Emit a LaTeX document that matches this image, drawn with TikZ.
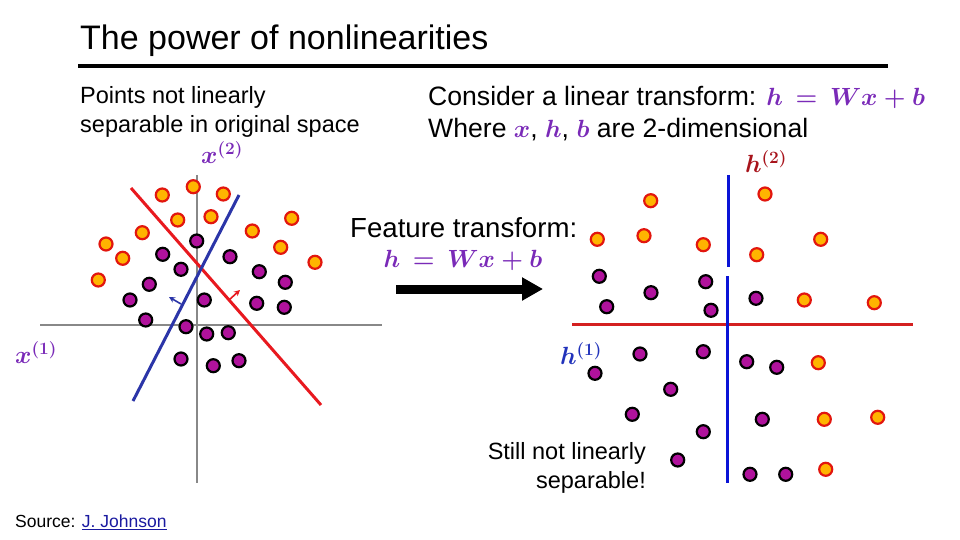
\documentclass[tikz,border=0pt]{standalone}
\usepackage{fontspec}
\setmainfont{Liberation Sans}
\usetikzlibrary{arrows.meta}
\definecolor{dotor}{HTML}{FFB400}
\definecolor{dotrim}{HTML}{E2160E}
\definecolor{dotpu}{HTML}{B0129C}
\definecolor{mpurple}{HTML}{7A2AB8}
\definecolor{lred}{HTML}{E8191F}
\definecolor{lblue}{HTML}{2B35A8}
\definecolor{rblue}{HTML}{0A14D6}
\definecolor{rred}{HTML}{D42020}
\definecolor{axgray}{HTML}{888888}
\definecolor{hred}{HTML}{A8141C}
\definecolor{hblue}{HTML}{2233BB}
\definecolor{linkblue}{HTML}{1A1AA0}
\newcommand{\mth}[1]{\textcolor{mpurple}{\fontsize{30}{30}\selectfont\boldmath$#1$}}
\tikzset{
  odot/.style={circle, fill=dotor, draw=dotrim, line width=2.2pt, minimum size=13pt, inner sep=0pt},
  pdot/.style={circle, fill=dotpu, draw=black, line width=2.2pt, minimum size=13pt, inner sep=0pt},
  axis/.style={draw=axgray, line width=2.8pt},
  txt/.style={inner sep=0pt, anchor=west, align=left},
  smalltxt/.style={font=\fontsize{23.5}{29}\selectfont},
  bigtxt/.style={font=\fontsize{26.6}{33}\selectfont},
  axlab/.style={inner sep=0pt, font=\fontsize{23}{28}\selectfont\boldmath},
}
\begin{document}
\begin{tikzpicture}[x=1pt,y=-1pt]
\useasboundingbox[fill=white] (0,0) rectangle (960,540);

% title
\node[txt, font=\fontsize{34}{40}\selectfont] (title) at (80,41) {The power of nonlinearities};
\coordinate (r1) at (78,66);
\coordinate (r2) at (888,66);
\draw[line width=4pt] (r1) -- (r2);

\node[txt, smalltxt] (pts) at (80,111.5) {Points not linearly\\separable in original space};
\node[txt, bigtxt] (cons) at (428,97) {Consider a linear transform: \mth{h\,=\,Wx+b}};
\node[txt, bigtxt] (where) at (428,130) {Where \mth{x}, \mth{h}, \mth{b} are 2-dimensional};

\node[txt, font=\fontsize{27.6}{33}\selectfont] (feat) at (350,228) {Feature transform:};
\node[inner sep=0pt] (feq) at (463,260) {\mth{h\,=\,Wx+b}};
\coordinate (a1) at (396,289);
\coordinate (a2) at (543,289);
\draw[line width=9pt, -{Triangle[length=21pt,width=22pt]}] (a1) -- (a2);

\node[inner sep=0pt, anchor=east, align=right, smalltxt] (still) at (646,467.5) {Still not linearly\\separable!};
\node[txt, font=\fontsize{17.5}{20}\selectfont] (src) at (15,522) {Source: \textcolor{linkblue}{\underline{J. Johnson}}};

% ---------- left plot ----------
\coordinate (vx1) at (197,175);
\coordinate (vx2) at (197,483);
\coordinate (hx1) at (40,325);
\coordinate (hx2) at (382,325);
\draw[axis] (vx1) -- (vx2);
\draw[axis] (hx1) -- (hx2);

\node[axlab, text=mpurple] (x2lab) at (222,153) {$x^{(2)}$};
\node[axlab, text=mpurple] (x1lab) at (36,353) {$x^{(1)}$};

\foreach \px/\py in {196.7/241,162.7/254.3,230/256.7,181/269.3,259.3/271.7,149.3/284.3,285.3/282.3,
  130/300,204.3/300,256.7/303.3,284.3/307.3,145.7/320,186/326.7,206.7/334,228.3/332.7,181/359,213.3/365.7,239/360.7}
  \node[pdot] at (\px,\py) {};
\foreach \px/\py in {162.3/195,193.3/186.7,223.3/194,177.7/220,211/216.7,291.7/218.3,142.3/232.7,252.3/231,
  106/244,122.7/258.3,280.7/247.3,315/262.3,98.3/280}
  \node[odot] at (\px,\py) {};

\coordinate (rl1) at (131,188);
\coordinate (rl2) at (321,405);
\coordinate (bl1) at (239,195);
\coordinate (bl2) at (133,401);
\draw[lred, line width=3pt] (rl1) -- (rl2);
\draw[lblue, line width=3pt] (bl1) -- (bl2);
\coordinate (ra1) at (229,300);
\coordinate (ra2) at (240,290);
\coordinate (ba1) at (181,304);
\coordinate (ba2) at (169,297);
\draw[lred, line width=1.6pt, -{Stealth[length=6pt,width=6pt]}] (ra1) -- (ra2);
\draw[lblue, line width=1.6pt, -{Stealth[length=6pt,width=6pt]}] (ba1) -- (ba2);

% ---------- right plot ----------
\coordinate (rh1) at (572,324.3);
\coordinate (rh2) at (913,324.3);
\draw[rred, line width=3.5pt] (rh1) -- (rh2);
\coordinate (bv1) at (728.7,175);
\coordinate (bv2) at (728.7,267);
\coordinate (bv3) at (727.5,276);
\coordinate (bv4) at (727.5,483);
\draw[rblue, line width=3.5pt] (bv1) -- (bv2);
\draw[rblue, line width=3.5pt] (bv3) -- (bv4);

\node[axlab, text=hred] (h2lab) at (766,162) {$h^{(2)}$};
\node[axlab, text=hblue] (h1lab) at (581,354) {$h^{(1)}$};

\foreach \px/\py in {650.7/200.7,765/194,597.3/239.3,644/235.7,703.3/244.7,820.7/239.3,756.7/254.7,804.3/300,874.3/302.7,
  818.3/362.7,824.3/419.3,877.7/417.3,825.7/469.3}
  \node[odot] at (\px,\py) {};
\foreach \px/\py in {599.3/276.3,705.7/281.7,651/292.7,606.7/306.7,711/310.3,756/298.3,
  640/354,703.3/351.7,746.7/361.7,776.7/367.3,595/373.3,670.7/389.3,632.3/414.3,762.3/419.3,703.3/431.7,677.7/460,750/474.3,785.7/474.3}
  \node[pdot] at (\px,\py) {};
\end{tikzpicture}
\end{document}
